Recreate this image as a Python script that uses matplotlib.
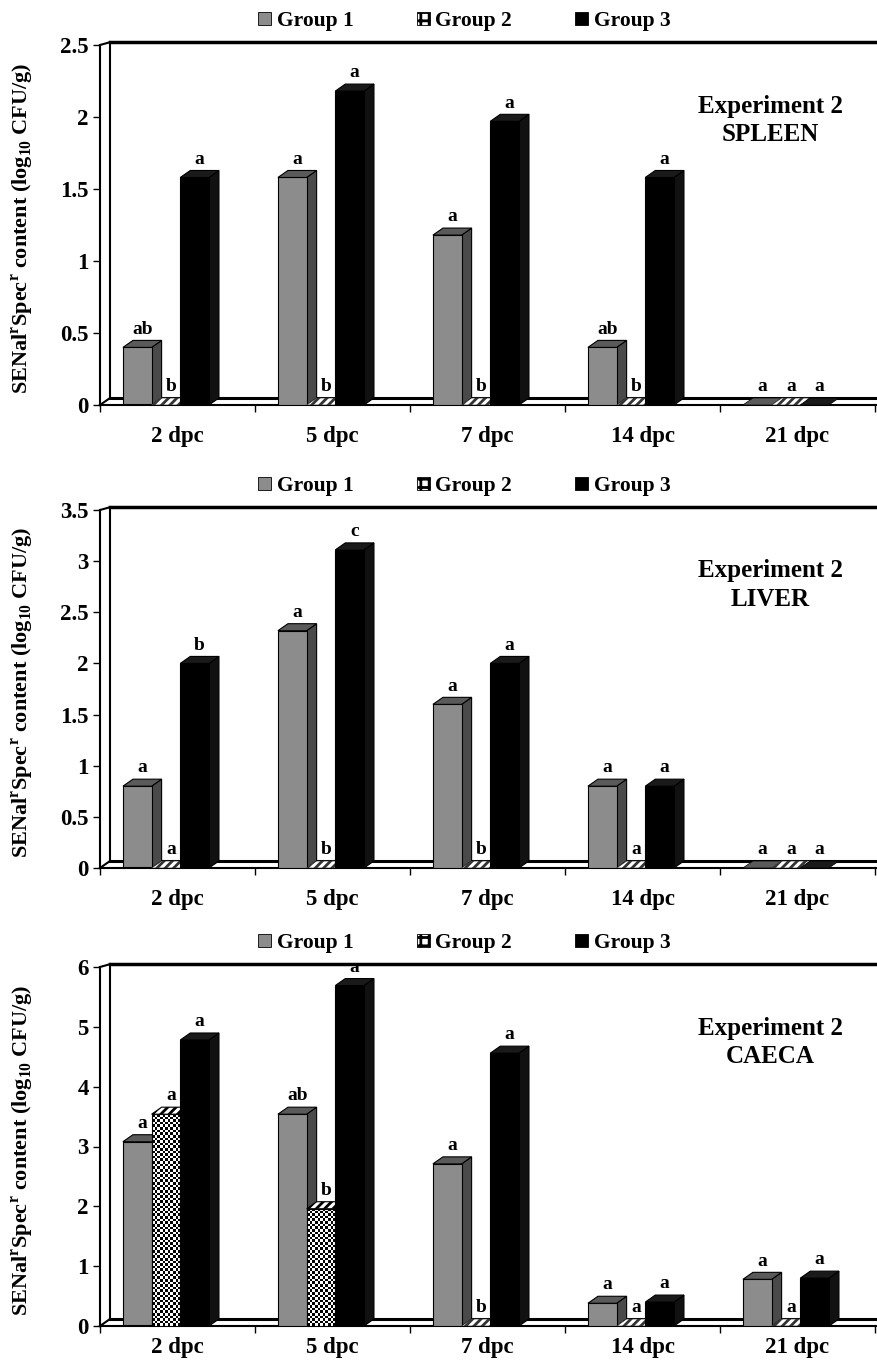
import numpy as np
import matplotlib
matplotlib.use('Agg')
import matplotlib.pyplot as plt
from matplotlib.patches import Rectangle, Polygon, Patch

plt.rcParams['font.family'] = 'Liberation Serif'
plt.rcParams['font.weight'] = 'bold'
plt.rcParams['mathtext.fontset'] = 'custom'
plt.rcParams['mathtext.rm'] = 'Liberation Serif:bold'
plt.rcParams['mathtext.bf'] = 'Liberation Serif:bold'
plt.rcParams['hatch.linewidth'] = 2.0

# data
categories = ['2 dpc', '5 dpc', '7 dpc', '14 dpc', '21 dpc']
groups = ['Group 1', 'Group 2', 'Group 3']

spleen_g1 = [0.40, 1.58, 1.18, 0.40, 0.0]
spleen_g2 = [0.0, 0.0, 0.0, 0.0, 0.0]
spleen_g3 = [1.58, 2.18, 1.97, 1.58, 0.0]
spleen_let1 = ['ab', 'a', 'a', 'ab', 'a']
spleen_let2 = ['b', 'b', 'b', 'b', 'a']
spleen_let3 = ['a', 'a', 'a', 'a', 'a']

liver_g1 = [0.80, 2.32, 1.60, 0.80, 0.0]
liver_g2 = [0.0, 0.0, 0.0, 0.0, 0.0]
liver_g3 = [2.00, 3.11, 2.00, 0.80, 0.0]
liver_let1 = ['a', 'a', 'a', 'a', 'a']
liver_let2 = ['a', 'b', 'b', 'a', 'a']
liver_let3 = ['b', 'c', 'a', 'a', 'a']

caeca_g1 = [3.08, 3.54, 2.71, 0.38, 0.78]
caeca_g2 = [3.54, 1.96, 0.0, 0.0, 0.0]
caeca_g3 = [4.78, 5.69, 4.56, 0.40, 0.80]
caeca_let1 = ['a', 'ab', 'a', 'a', 'a']
caeca_let2 = ['a', 'b', 'b', 'a', 'a']
caeca_let3 = ['a', 'a', 'a', 'a', 'a']

W, H = 877, 1360
fig = plt.figure(figsize=(W / 100, H / 100), dpi=100)

DX_PX, DY_PX = 10, 7
bar_w = 0.185
bar_starts = [0.148, 0.333, 0.518]
front = ['#8c8c8c', None, '#000000']
side = ['#4a4a4a', None, '#111111']
top = ['#5a5a5a', '#333333', '#1a1a1a']

ylabel = r'SENal$^{\mathrm{r}}$Spec$^{\mathrm{r}}$ content (log$_{\mathrm{10}}$ CFU/g)'


def draw_panel(ax, vals, lets, organ, ymax, ystep, xpad):
    ax.set_xlim(0, 5)
    ax.set_ylim(0, ymax)
    bb = ax.get_window_extent()
    dx = DX_PX * 5 / bb.width
    dy = DY_PX * ymax / bb.height

    for ax_sp in ['top', 'right']:
        ax.spines[ax_sp].set_visible(False)
    ax.spines['left'].set_linewidth(1.5)
    ax.spines['bottom'].set_linewidth(1.5)

    # walls / floor
    k = dict(color='black', lw=1.5, clip_on=False, zorder=1)
    ax.plot([dx, dx], [dy, ymax + dy * 0.4], **k)
    ax.plot([0, dx], [ymax, ymax + dy * 0.4], **k)
    ax.plot([dx, 5.2], [ymax + dy * 0.4, ymax + dy * 0.4], color='black', lw=2.5, clip_on=False, zorder=1)
    ax.plot([0, dx], [0, dy], **k)
    ax.plot([dx, 5.2], [dy, dy], color='black', lw=2.2, clip_on=False, zorder=1)
    ax.plot([5, 5.2], [0, 0], color='black', lw=1.5, clip_on=False, zorder=1)

    px_per_unit = bb.height / ymax
    z = 2
    for i in range(5):
        for g in range(3):
            h = vals[g][i]
            x0 = i + bar_starts[g]
            x1 = x0 + bar_w
            if h > 0:
                if g == 1:
                    rect = Rectangle((x0, 0), bar_w, h, facecolor='white', edgecolor='none', zorder=z)
                    ax.add_patch(rect)
                    nx = int(round(bar_w * bb.width / 5 / 2.6))
                    ny = int(round(h * px_per_unit / 2.6))
                    cb = np.indices((ny, nx)).sum(axis=0) % 2
                    im = ax.imshow(cb, cmap='gray', extent=(x0, x1, 0, h), aspect='auto',
                                   interpolation='nearest', zorder=z + 0.1, origin='lower')
                    im.set_clip_path(rect)
                    ax.add_patch(Rectangle((x0, 0), bar_w, h, facecolor='none', edgecolor='black',
                                           lw=0.8, zorder=z + 0.2))
                    ax.add_patch(Polygon([(x1, 0), (x1 + dx, dy), (x1 + dx, h + dy), (x1, h)],
                                         closed=True, facecolor='#444444', edgecolor='black', lw=0.8, zorder=z))
                    ax.add_patch(Polygon([(x0, h), (x1, h), (x1 + dx, h + dy), (x0 + dx, h + dy)],
                                         closed=True, facecolor='white', edgecolor='black', hatch='////',
                                         lw=0.8, zorder=z + 0.2))
                else:
                    ax.add_patch(Polygon([(x1, 0), (x1 + dx, dy), (x1 + dx, h + dy), (x1, h)],
                                         closed=True, facecolor=side[g], edgecolor='black', lw=0.8, zorder=z))
                    ax.add_patch(Rectangle((x0, 0), bar_w, h, facecolor=front[g], edgecolor='black',
                                           lw=0.8, zorder=z))
                    ax.add_patch(Polygon([(x0, h), (x1, h), (x1 + dx, h + dy), (x0 + dx, h + dy)],
                                         closed=True, facecolor=top[g], edgecolor='black', lw=0.8, zorder=z))
            else:
                if g == 1:
                    ax.add_patch(Polygon([(x0, 0), (x1, 0), (x1 + dx, dy), (x0 + dx, dy)], closed=True,
                                         facecolor='white', edgecolor='#333333', hatch='////', lw=0.5, zorder=z))
                else:
                    ax.add_patch(Polygon([(x0, 0), (x1, 0), (x1 + dx, dy), (x0 + dx, dy)], closed=True,
                                         facecolor=top[g], edgecolor='black', lw=0.5, zorder=z))
            ax.annotate(lets[g][i], (x0 + bar_w / 2 + dx / 2, h + dy), xytext=(0, 2),
                        textcoords='offset points', ha='center', va='bottom',
                        fontsize=14, fontweight='bold', zorder=10)
            z += 1

    ax.set_xlim(0, 5)
    ax.set_ylim(0, ymax)

    ticks = np.arange(0, ymax + 1e-9, ystep)
    ax.set_yticks(ticks)
    ax.set_yticklabels([f'{t:g}' for t in ticks], fontsize=16.5, fontweight='bold')
    ax.tick_params(axis='y', length=5, width=1, pad=3)
    ax.set_xticks(range(6))
    ax.set_xticklabels([])
    ax.tick_params(axis='x', which='major', length=5, width=1, direction='out')
    ax.set_xticks(np.arange(5) + 0.5, minor=True)
    ax.set_xticklabels(categories, minor=True, fontsize=16.5, fontweight='bold')
    ax.tick_params(axis='x', which='minor', length=0, pad=xpad)

    ax.set_ylabel(ylabel, fontsize=16, fontweight='bold')
    ax.yaxis.set_label_coords(-0.083, 0.49)

    ax.text(0.865, 0.79, 'Experiment 2\n' + organ, transform=ax.transAxes, ha='center', va='center',
            fontsize=18, fontweight='bold', linespacing=1.3)

    handles = [Patch(facecolor='#8c8c8c', edgecolor='black', lw=0.6),
               Patch(facecolor='white', edgecolor='black', hatch='++', lw=0.6),
               Patch(facecolor='black', edgecolor='black', lw=0.6)]
    ax.legend(handles, groups, loc='lower center', bbox_to_anchor=(0.47, 1.0), ncol=3, frameon=False,
              handlelength=0.6, handleheight=0.6, handletextpad=0.25, columnspacing=2.95,
              prop={'family': 'Liberation Serif', 'weight': 'bold', 'size': 15.5}, borderaxespad=0.25)


left = 100 / W
width = 775 / W
ax1 = fig.add_axes([left, (H - 405) / H, width, 360 / H])
ax2 = fig.add_axes([left, (H - 868) / H, width, 358 / H])
ax3 = fig.add_axes([left, (H - 1326) / H, width, 359 / H])

draw_panel(ax1, [spleen_g1, spleen_g2, spleen_g3], [spleen_let1, spleen_let2, spleen_let3],
           'SPLEEN', 2.5, 0.5, 15)
draw_panel(ax2, [liver_g1, liver_g2, liver_g3], [liver_let1, liver_let2, liver_let3],
           'LIVER', 3.5, 0.5, 15)
draw_panel(ax3, [caeca_g1, caeca_g2, caeca_g3], [caeca_let1, caeca_let2, caeca_let3],
           'CAECA', 6, 1, 8)

fig.savefig('out.png', dpi=100)
